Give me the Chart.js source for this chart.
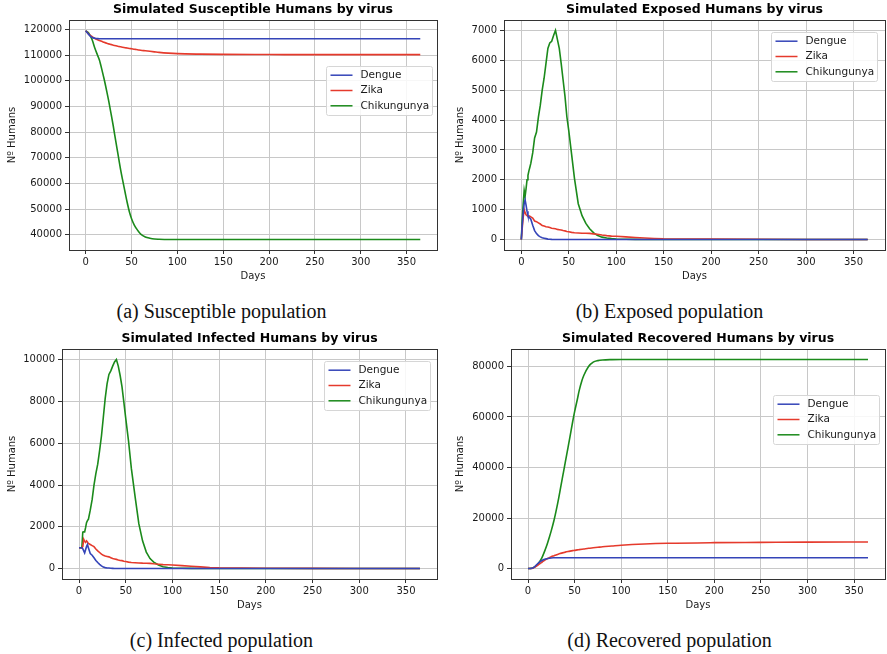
<!DOCTYPE html>
<html>
<head>
<meta charset="utf-8">
<script src="https://cdn.jsdelivr.net/npm/chart.js@4"></script>
<style>
  body { margin: 0; background: #fff; width: 887px; height: 654px; position: relative; overflow: hidden; }
  canvas { position: absolute; }
  .cap { position: absolute; font-family: 'Liberation Serif', 'DejaVu Serif', serif; font-size: 20px; color: #111; text-align: center; width: 443px; line-height: 22px; }
</style>
</head>
<body>
<canvas id="susChart" width="443" height="286" style="left:0;top:0"></canvas>
<canvas id="expChart" width="444" height="286" style="left:443px;top:0"></canvas>
<canvas id="infChart" width="443" height="290" style="left:0;top:325px"></canvas>
<canvas id="recChart" width="444" height="290" style="left:443px;top:325px"></canvas>
<div class="cap" style="left:0;top:300px">(a) Susceptible population</div>
<div class="cap" style="left:448px;top:300px">(b) Exposed population</div>
<div class="cap" style="left:0;top:629px">(c) Infected population</div>
<div class="cap" style="left:448px;top:629px">(d) Recovered population</div>
<script>
'use strict';

var viruses = ['Dengue', 'Zika', 'Chikungunya'];

// tick labels
var dayTicks = [0, 50, 100, 150, 200, 250, 300, 350];
var susTicks = [40000, 50000, 60000, 70000, 80000, 90000, 100000, 110000, 120000];
var expTicks = [0, 1000, 2000, 3000, 4000, 5000, 6000, 7000];
var infTicks = [0, 2000, 4000, 6000, 8000, 10000];
var recTicks = [0, 20000, 40000, 60000, 80000];

// days sampled for the smooth curves (susceptible, recovered)
var smoothDays = [0, 3, 5, 7, 10, 13, 15, 18, 20, 23, 25, 28, 30, 33, 35, 38, 40, 43, 45, 48, 50, 53, 55, 58, 60, 65, 70, 75, 80, 90, 100, 125, 150, 200, 250, 300, 365];

var susDengue = [119500, 118200, 117400, 116900, 116600, 116450, 116400, 116400, 116400, 116400, 116400, 116400, 116400, 116400, 116400, 116400, 116400, 116400, 116400, 116400, 116400, 116400, 116400, 116400, 116400, 116400, 116400, 116400, 116400, 116400, 116400, 116400, 116400, 116400, 116400, 116400, 116400];
var susZika = [119500, 118300, 117700, 117200, 116500, 116000, 115700, 115300, 115000, 114600, 114400, 114100, 113900, 113650, 113500, 113250, 113100, 112900, 112800, 112600, 112500, 112300, 112200, 112000, 111900, 111700, 111500, 111300, 111100, 110800, 110600, 110400, 110300, 110250, 110200, 110200, 110200];
var susChik = [119500, 118700, 117500, 116000, 112700, 109900, 108000, 103800, 100800, 95800, 92300, 86500, 82500, 76000, 71800, 65500, 61800, 56500, 53000, 48500, 46300, 43800, 42600, 41100, 40300, 39200, 38700, 38400, 38300, 38200, 38200, 38200, 38200, 38200, 38200, 38200, 38200];

var recDengue = [0, 30, 200, 700, 1800, 2700, 3200, 3700, 3900, 4100, 4200, 4260, 4300, 4300, 4300, 4300, 4300, 4300, 4300, 4300, 4300, 4300, 4300, 4300, 4300, 4300, 4300, 4300, 4300, 4300, 4300, 4300, 4300, 4300, 4300, 4300, 4300];
var recZika = [0, 30, 150, 500, 1200, 2000, 2500, 3300, 3800, 4300, 4700, 5100, 5400, 5800, 6000, 6300, 6500, 6750, 6900, 7100, 7200, 7400, 7500, 7650, 7750, 8000, 8200, 8400, 8600, 8900, 9200, 9700, 10000, 10250, 10350, 10450, 10500];
var recChik = [0, 50, 250, 600, 1500, 3000, 4300, 7000, 9000, 12500, 15000, 19200, 22500, 28000, 32000, 38000, 42000, 48000, 52000, 58200, 62000, 67000, 70500, 74500, 76500, 80000, 81700, 82300, 82550, 82700, 82750, 82760, 82760, 82760, 82760, 82760, 82760];

// days sampled for the noisy curves (exposed, infected)
var noisyDays = [0, 1, 2, 3, 4, 5, 6, 7, 8, 9, 10, 12, 14, 16, 18, 20, 22, 24, 26, 28, 30, 32, 34, 36, 38, 40, 42, 44, 46, 48, 50, 53, 56, 60, 64, 68, 72, 76, 80, 85, 90, 95, 100, 110, 120, 130, 140, 150, 175, 200, 250, 300, 365];

var expDengue = [0, 500, 900, 1200, 1330, 1150, 950, 800, 750, 720, 680, 480, 300, 200, 130, 90, 60, 45, 30, 15, 10, 5, 3, 2, 0, 0, 0, 0, 0, 0, 0, 0, 0, 0, 0, 0, 0, 0, 0, 0, 0, 0, 0, 0, 0, 0, 0, 0, 0, 0, 0, 0, 0];
var expZika = [0, 400, 750, 1000, 900, 830, 800, 780, 790, 780, 760, 720, 620, 600, 560, 520, 470, 450, 430, 420, 400, 380, 370, 360, 340, 330, 320, 300, 290, 270, 260, 240, 225, 220, 210, 210, 205, 190, 175, 150, 130, 115, 110, 90, 70, 50, 35, 25, 20, 15, 10, 3, 0];
var expChik = [0, 700, 1200, 1640, 1450, 1700, 2000, 2150, 2300, 2420, 2550, 2900, 3400, 3600, 4100, 4500, 5000, 5400, 5900, 6400, 6580, 6640, 6830, 7000, 6700, 6400, 5900, 5350, 4800, 4110, 3650, 2850, 2050, 1200, 800, 540, 360, 230, 140, 80, 50, 30, 20, 10, 5, 3, 2, 1, 0, 0, 0, 0, 0];

var infDengue = [1000, 1000, 1000, 1000, 950, 850, 750, 900, 1050, 1150, 1000, 720, 640, 520, 390, 290, 200, 130, 70, 45, 30, 25, 15, 10, 5, 3, 2, 0, 0, 0, 0, 0, 0, 0, 0, 0, 0, 0, 0, 0, 0, 0, 0, 0, 0, 0, 0, 0, 0, 0, 0, 0, 0];
var infZika = [1000, 1000, 1000, 1000, 1050, 1400, 1300, 1250, 1330, 1280, 1200, 1150, 1100, 1050, 940, 850, 770, 690, 640, 600, 580, 560, 520, 480, 460, 440, 410, 390, 380, 350, 335, 310, 290, 280, 270, 260, 255, 250, 230, 210, 190, 180, 170, 140, 110, 80, 50, 35, 25, 15, 10, 5, 0];
var infChik = [1000, 1000, 1000, 1000, 1750, 1760, 1760, 1960, 2200, 2300, 2360, 2800, 3300, 4000, 4550, 5000, 5650, 6350, 7250, 8150, 8850, 9300, 9470, 9700, 9900, 10020, 9700, 9250, 8700, 7960, 7200, 6100, 4800, 3450, 2150, 1330, 790, 480, 310, 170, 90, 50, 30, 15, 8, 5, 3, 2, 0, 0, 0, 0, 0];

var colors = {
    dengue : '#3444b8',
    zika   : '#e53a2c',
    chik   : '#1b8a1b',
    grid   : '#c8c8c8',
    frame  : '#333333',
    text   : '#1a1a1a'
};
var fontFamily = "'DejaVu Sans', sans-serif";

function points(days, values) {
    return days.map(function(d, i) { return {x: d, y: values[i]}; });
}

function fixedTicks(values) {
    return function(scale) {
        scale.ticks = values.map(function(v) { return {value: v}; });
    };
}

// matplotlib-like axes box
var framePlugin = {
    id: 'frame',
    afterDraw: function(chart) {
        var a = chart.chartArea, ctx = chart.ctx;
        ctx.save();
        ctx.strokeStyle = colors.frame;
        ctx.lineWidth = 1;
        ctx.strokeRect(Math.round(a.left) + 0.5, Math.round(a.top) + 0.5, Math.round(a.right - a.left), Math.round(a.bottom - a.top));
        ctx.restore();
    }
};

// title centred over the axes
var axTitlePlugin = {
    id: 'axTitle',
    afterDraw: function(chart, args, opts) {
        var a = chart.chartArea, ctx = chart.ctx;
        ctx.save();
        ctx.font = 'bold 12.5px ' + fontFamily;
        ctx.fillStyle = '#000';
        ctx.textAlign = 'center';
        ctx.textBaseline = 'middle';
        ctx.fillText(opts.text, (a.left + a.right) / 2, opts.y);
        ctx.restore();
    }
};

// legend box drawn inside the axes
var boxLegendPlugin = {
    id: 'boxLegend',
    afterDraw: function(chart, args, opts) {
        var a = chart.chartArea, ctx = chart.ctx;
        var w = 106, h = 49;
        var x = Math.round(a.right - opts.right - w) + 0.5;
        var y = Math.round(a.top + opts.top) + 0.5;
        ctx.save();
        ctx.fillStyle = 'rgba(255,255,255,0.85)';
        ctx.strokeStyle = '#d6d6d6';
        ctx.lineWidth = 1;
        ctx.beginPath();
        ctx.roundRect(x, y, w, h, 2);
        ctx.fill();
        ctx.stroke();
        ctx.font = '10.5px ' + fontFamily;
        ctx.textBaseline = 'middle';
        chart.data.datasets.forEach(function(ds, i) {
            var cy = y + 8.7 + i * 15.3;
            ctx.strokeStyle = ds.borderColor;
            ctx.lineWidth = 1.5;
            ctx.beginPath();
            ctx.moveTo(x + 4, cy);
            ctx.lineTo(x + 26, cy);
            ctx.stroke();
            ctx.fillStyle = colors.text;
            ctx.fillText(ds.label, x + 34, cy);
        });
        ctx.restore();
    }
};

function makeChart(id, cfg) {
    var lineColors = [colors.dengue, colors.zika, colors.chik];
    new Chart(document.getElementById(id), {
        type: 'line',
        data: {
            datasets: cfg.series.map(function(vals, i) {
                return {
                    label: viruses[i],
                    data: points(cfg.days, vals),
                    borderColor: lineColors[i],
                    backgroundColor: lineColors[i],
                    borderWidth: 1.6,
                    pointRadius: 0,
                    fill: false,
                    cubicInterpolationMode: cfg.smooth ? 'monotone' : 'default',
                    tension: 0
                };
            })
        },
        options: {
            responsive: false,
            animation: false,
            events: [],
            layout: { padding: cfg.padding },
            plugins: {
                legend: { display: false },
                tooltip: { enabled: false },
                axTitle: { text: cfg.title, y: cfg.titleY },
                boxLegend: cfg.legend
            },
            scales: {
                x: {
                    type: 'linear',
                    min: -18.25,
                    max: 383.25,
                    afterBuildTicks: fixedTicks(dayTicks),
                    afterFit: function(scale) { scale.height = 36; },
                    border: { display: false },
                    grid: { color: colors.grid, tickColor: colors.frame, tickLength: 4, lineWidth: 1 },
                    ticks: { padding: 2, maxRotation: 0, autoSkip: false, color: colors.text, font: { size: 10, family: fontFamily } },
                    title: { display: true, text: 'Days', color: colors.text, padding: { top: 2, bottom: 4 }, font: { size: 10, family: fontFamily } }
                },
                y: {
                    min: cfg.yMin,
                    max: cfg.yMax,
                    afterBuildTicks: fixedTicks(cfg.yTicks),
                    afterFit: function(scale) { scale.width = cfg.yWidth; },
                    border: { display: false },
                    grid: { color: colors.grid, tickColor: colors.frame, tickLength: 4, lineWidth: 1 },
                    ticks: {
                        padding: 3, autoSkip: false, color: colors.text,
                        font: { size: 10, family: fontFamily },
                        callback: function(v) { return String(v); }
                    },
                    title: { display: true, text: 'Nº Humans', color: colors.text, padding: { top: 4, bottom: 4 }, font: { size: 10, family: fontFamily } }
                }
            }
        },
        plugins: [framePlugin, axTitlePlugin, boxLegendPlugin]
    });
}

makeChart('susChart', {
    title: 'Simulated Susceptible Humans by virus', titleY: 10,
    days: smoothDays, series: [susDengue, susZika, susChik], smooth: true,
    yMin: 34100, yMax: 123700, yTicks: susTicks, yWidth: 67,
    padding: { left: 2, top: 20, right: 6, bottom: 0 },
    legend: { right: 5, top: 46 }
});

makeChart('expChart', {
    title: 'Simulated Exposed Humans by virus', titleY: 10,
    days: noisyDays, series: [expDengue, expZika, expChik], smooth: false,
    yMin: -350, yMax: 7350, yTicks: expTicks, yWidth: 54,
    padding: { left: 7, top: 20, right: 2, bottom: 0 },
    legend: { right: 8, top: 12 }
});

makeChart('infChart', {
    title: 'Simulated Infected Humans by virus', titleY: 14,
    days: noisyDays, series: [infDengue, infZika, infChik], smooth: false,
    yMin: -500, yMax: 10520, yTicks: infTicks, yWidth: 60,
    padding: { left: 2, top: 24, right: 6, bottom: 0 },
    legend: { right: 7, top: 12 }
});

makeChart('recChart', {
    title: 'Simulated Recovered Humans by virus', titleY: 14,
    days: smoothDays, series: [recDengue, recZika, recChik], smooth: true,
    yMin: -4140, yMax: 86900, yTicks: recTicks, yWidth: 61,
    padding: { left: 7, top: 24, right: 2, bottom: 0 },
    legend: { right: 6, top: 46 }
});
</script>
</body>
</html>
